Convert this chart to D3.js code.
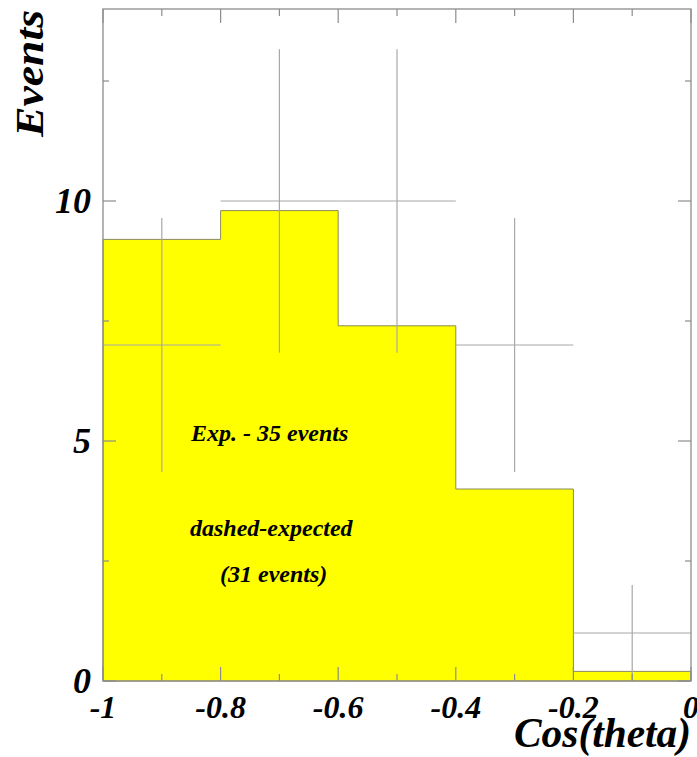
<!DOCTYPE html>
<html>
<head>
<meta charset="utf-8">
<script src="https://cdn.jsdelivr.net/npm/d3@7"></script>
<style>
  html, body { margin: 0; padding: 0; background: #fff; }
  svg { display: block; }
  text { font-family: "Liberation Serif", "DejaVu Serif", serif; font-weight: bold; font-style: italic; fill: #000; }
</style>
</head>
<body>
<svg id="chart" width="697" height="757"></svg>
<script>
// Bin edges of cos(theta)
const binEdges = [-1, -0.8, -0.6, -0.4, -0.2, 0];
// Expected distribution (filled histogram)
const expectedCounts = [9.2, 9.8, 7.4, 4.0, 0.2];
// Measured counts (points with sqrt(N) errors)
const measuredCounts = [7, 10, 10, 7, 1];
// Axis ticks
const xMajorTicks = [-1, -0.8, -0.6, -0.4, -0.2, 0];
const xTickLabels = ["-1", "-0.8", "-0.6", "-0.4", "-0.2", "0"];
const xMinorTicks = [-0.9, -0.7, -0.5, -0.3, -0.1];
const yMajorTicks = [0, 5, 10];
const yTickLabels = ["0", "5", "10"];
const yMinorTicks = [2.5, 7.5, 12.5];

const svg = d3.select("#chart");
const L = 103, R = 691, T = 9, B = 681;

const x = d3.scaleLinear().domain([-1, 0]).range([L, R]);
const y = d3.scaleLinear().domain([0, 14]).range([B, T]);

const bins = expectedCounts.map((v, i) => ({ x0: binEdges[i], x1: binEdges[i + 1], v }));

// Filled histogram area
const stepPts = [];
stepPts.push([x(binEdges[0]), y(0)]);
bins.forEach(b => { stepPts.push([x(b.x0), y(b.v)]); stepPts.push([x(b.x1), y(b.v)]); });
stepPts.push([x(binEdges[binEdges.length - 1]), y(0)]);

svg.append("path")
  .attr("d", d3.line()(stepPts) + "Z")
  .attr("fill", "#ffff00")
  .attr("stroke", "#8a8a60")
  .attr("stroke-width", 1);

// Measured points: horizontal bin width and vertical sqrt(N) error
const meas = svg.append("g").attr("stroke", "#a8a8a8").attr("stroke-width", 1.2).attr("fill", "none");
measuredCounts.forEach((n, i) => {
  const x0 = binEdges[i], x1 = binEdges[i + 1], xc = (x0 + x1) / 2;
  const err = Math.sqrt(n);
  meas.append("line")
    .attr("x1", x(x0)).attr("x2", x(x1))
    .attr("y1", y(n)).attr("y2", y(n));
  meas.append("line")
    .attr("x1", x(xc)).attr("x2", x(xc))
    .attr("y1", y(Math.max(0, n - err))).attr("y2", y(n + err));
});

// Frame
svg.append("rect")
  .attr("x", L).attr("y", T)
  .attr("width", R - L).attr("height", B - T)
  .attr("fill", "none").attr("stroke", "#8c8c8c").attr("stroke-width", 1.3);

// Ticks (inward on all four sides)
const ticks = svg.append("g").attr("stroke", "#8c8c8c").attr("stroke-width", 1.2);
const xt = [...xMajorTicks.map(v => ({ v, len: 14 })), ...xMinorTicks.map(v => ({ v, len: 7 }))];
xt.forEach(t => {
  ticks.append("line").attr("x1", x(t.v)).attr("x2", x(t.v)).attr("y1", B).attr("y2", B - t.len);
  ticks.append("line").attr("x1", x(t.v)).attr("x2", x(t.v)).attr("y1", T).attr("y2", T + t.len);
});
const yt = [...yMajorTicks.map(v => ({ v, len: 13 })), ...yMinorTicks.map(v => ({ v, len: 6 }))];
yt.forEach(t => {
  ticks.append("line").attr("x1", L).attr("x2", L + t.len).attr("y1", y(t.v)).attr("y2", y(t.v));
  ticks.append("line").attr("x1", R).attr("x2", R - t.len).attr("y1", y(t.v)).attr("y2", y(t.v));
});

// Tick labels
svg.append("g").selectAll("text").data(xMajorTicks).join("text")
  .attr("x", d => x(d)).attr("y", B + 37)
  .attr("text-anchor", "middle")
  .attr("font-size", 32)
  .text((d, i) => xTickLabels[i]);

svg.append("g").selectAll("text").data(yMajorTicks).join("text")
  .attr("x", L - 12).attr("y", d => y(d) + 12)
  .attr("text-anchor", "end")
  .attr("font-size", 36)
  .text((d, i) => yTickLabels[i]);

// Axis titles
svg.append("text")
  .attr("x", R).attr("y", 747)
  .attr("text-anchor", "end")
  .attr("font-size", 43)
  .attr("textLength", 177)
  .attr("lengthAdjust", "spacingAndGlyphs")
  .text("Cos(theta)");

svg.append("text")
  .attr("transform", `translate(43,10) rotate(-90)`)
  .attr("text-anchor", "end")
  .attr("font-size", 40)
  .attr("textLength", 127)
  .attr("lengthAdjust", "spacingAndGlyphs")
  .text("Events");

// Annotations
svg.append("text").attr("x", 191).attr("y", 441).attr("font-size", 24).text("Exp. - 35 events");
svg.append("text").attr("x", 190).attr("y", 536).attr("font-size", 24).text("dashed-expected");
svg.append("text").attr("x", 220).attr("y", 582).attr("font-size", 24).text("(31 events)");
</script>
</body>
</html>
